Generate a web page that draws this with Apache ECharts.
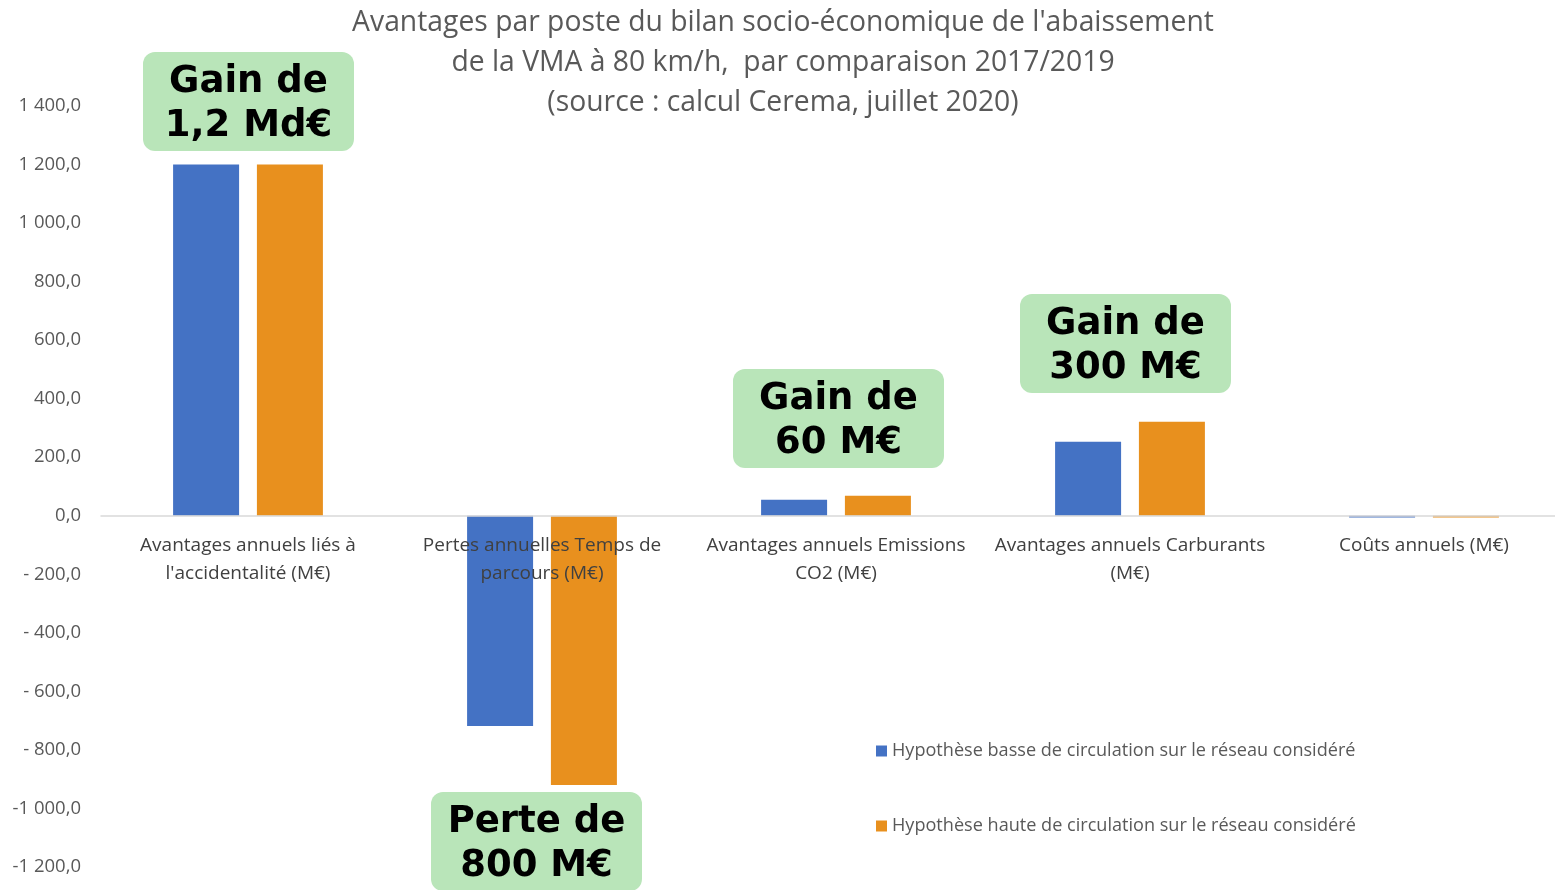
<!DOCTYPE html>
<html>
<head>
<meta charset="utf-8">
<script src="https://cdn.jsdelivr.net/npm/echarts@6/dist/echarts.min.js"></script>
<style>
  html, body { margin: 0; padding: 0; background: #fff; }
  #chart { width: 1555px; height: 890px; }
</style>
</head>
<body>
<div id="chart"></div>
<script>
var categories = [
  "Avantages annuels liés à\nl'accidentalité (M€)",
  "Pertes annuelles Temps de\nparcours (M€)",
  "Avantages annuels Emissions\nCO2 (M€)",
  "Avantages annuels Carburants\n(M€)",
  "Coûts annuels (M€)"
];
var seriesNames = [
  "Hypothèse basse de circulation sur le réseau considéré",
  "Hypothèse haute de circulation sur le réseau considéré"
];
var basse = [1200, -718, 55, 253, -6];
var haute = [1200, -920, 68, 321, -6];
var yTickLabels = {
  "1400": "1 400,0", "1200": "1 200,0", "1000": "1 000,0", "800": "800,0",
  "600": "600,0", "400": "400,0", "200": "200,0", "0": "0,0",
  "-200": "- 200,0", "-400": "- 400,0", "-600": "- 600,0", "-800": "- 800,0",
  "-1000": "-1 000,0", "-1200": "-1 200,0"
};
var notes = ["Gain de\n1,2 Md€", "Perte de\n800 M€", "Gain de\n60 M€", "Gain de\n300 M€"];

var chart = echarts.init(document.getElementById('chart'));

// green callout boxes
function callout(x, y, text) {
  return {
    type: 'group', left: x, top: y, z: 100,
    children: [
      { type: 'rect', shape: { x: 0, y: 0, width: 211, height: 99, r: 12 },
        style: { fill: '#b9e5b9' } },
      { type: 'text', x: 105.5, y: 52,
        style: { text: text, fill: '#000', font: 'bold 37px "DejaVu Sans"',
          align: 'center', verticalAlign: 'middle', lineHeight: 44 } }
    ]
  };
}

var option = {
  backgroundColor: '#ffffff',
  animation: false,
  title: {
    text: "Avantages par poste du bilan socio-économique de l'abaissement\nde la VMA à 80 km/h,  par comparaison 2017/2019\n(source : calcul Cerema, juillet 2020)",
    left: 778, top: -2, textAlign: 'center',
    textStyle: { color: '#595959', fontFamily: 'Open Sans', fontWeight: 'normal', fontSize: 28.3, lineHeight: 40 }
  },
  legend: {
    orient: 'vertical', left: 871, top: 737,
    itemWidth: 11, itemHeight: 11, itemGap: 57,
    icon: 'rect',
    textStyle: { color: '#595959', fontFamily: 'Open Sans', fontSize: 18.1 },
    data: seriesNames
  },
  grid: { left: 101, top: 106, width: 1470, height: 761, outerBoundsMode: 'none' },
  xAxis: {
    type: 'category',
    data: categories,
    z: 10,
    position: 'bottom',
    offset: -351,
    axisLine: { onZero: false, lineStyle: { color: '#d9d9d9', width: 1.5 } },
    axisTick: { show: false },
    axisLabel: { color: '#404040', fontFamily: 'Open Sans', fontSize: 19, lineHeight: 28, margin: 16, interval: 0 }
  },
  yAxis: {
    type: 'value', min: -1200, max: 1400, interval: 200,
    axisLine: { show: false },
    axisTick: { show: false },
    splitLine: { show: false },
    axisLabel: {
      color: '#595959', fontFamily: 'Open Sans', fontSize: 18.5, margin: 20,
      formatter: function (v) { return yTickLabels[String(v)]; }
    }
  },
  series: [
    { name: seriesNames[0], type: 'bar', data: basse, barWidth: 66, barGap: '27%',
      itemStyle: { color: '#4472c4' } },
    { name: seriesNames[1], type: 'bar', data: haute, barWidth: 66,
      itemStyle: { color: '#e8901e' } }
  ],
  graphic: [
    callout(143, 52, notes[0]),
    callout(431, 792, notes[1]),
    callout(733, 369, notes[2]),
    callout(1020, 294, notes[3])
  ]
};
chart.setOption(option);
</script>
</body>
</html>
